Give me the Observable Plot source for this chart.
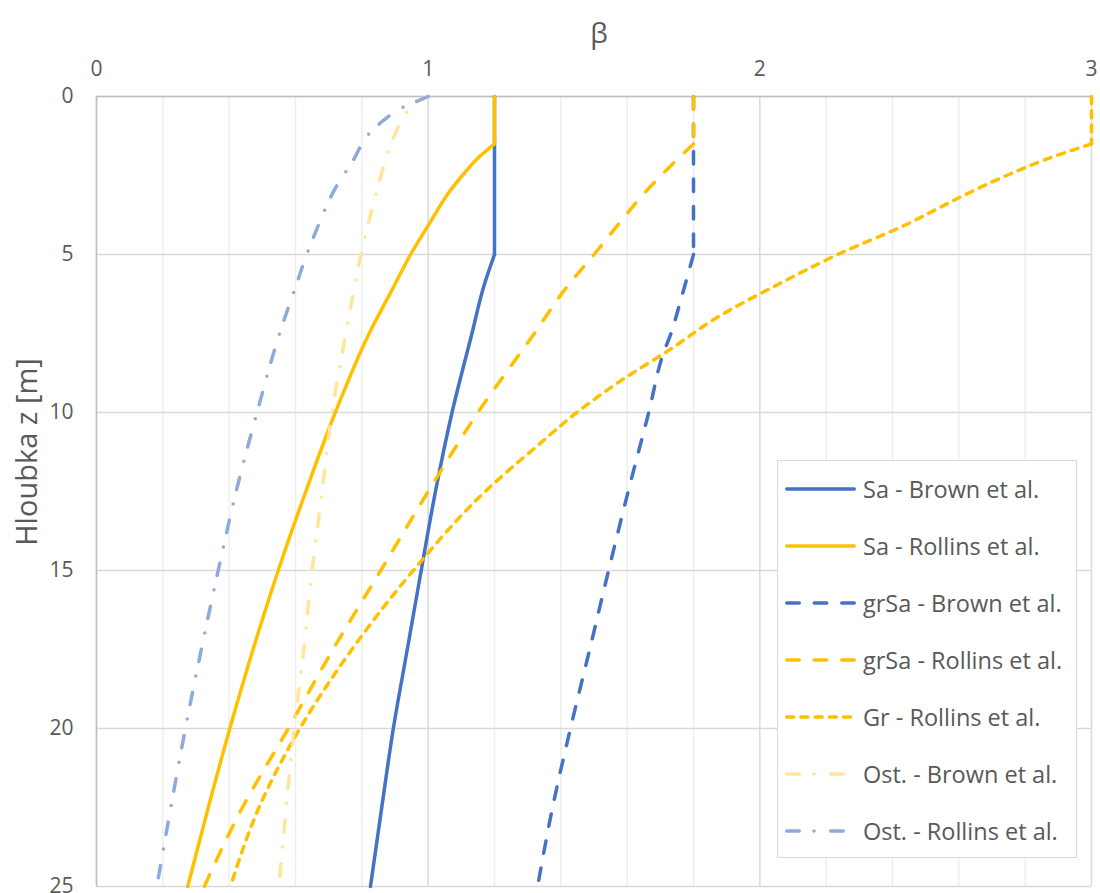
<!DOCTYPE html>
<html><head><meta charset="utf-8">
<script src="https://cdn.jsdelivr.net/npm/d3@7"></script>
<script src="https://cdn.jsdelivr.net/npm/@observablehq/plot@0.6"></script>
<style>
html,body{margin:0;padding:0;overflow:hidden;background:#fff;}
#wrap{position:relative;width:1100px;height:893px;font-family:"Open Sans",sans-serif;color:#595959;}
#wrap svg.plot{position:absolute;left:0;top:0;}
#title{position:absolute;left:599px;top:12px;transform:translateX(-50%);font-size:28px;line-height:40px;}
#ylabel{position:absolute;left:26px;top:452px;transform:translate(-50%,-50%) rotate(-90deg);white-space:nowrap;font-size:29px;line-height:36px;}
#legend{position:absolute;left:777px;top:460px;width:300px;height:398px;border:1.5px solid #d9d9d9;background:#fff;box-sizing:border-box;}
.row{position:absolute;left:0;height:40px;display:flex;align-items:center;}
.row svg{display:block;margin-left:7px;}
.row span{font-size:23.5px;margin-left:3px;white-space:nowrap;}
</style></head><body><div id="wrap"><div id="title">β</div><div id="ylabel">Hloubka z [m]</div></div>
<script>
// ---- data ----
const seriesNames = ["Sa - Brown et al.", "Sa - Rollins et al.", "grSa - Brown et al.", "grSa - Rollins et al.", "Gr - Rollins et al.", "Ost. - Brown et al.", "Ost. - Rollins et al."];

const zSaBrown    = [0, 5, 6, 7.5, 10, 12.5, 15, 17.5, 20, 22.5, 25];
const bSaBrown    = [1.2, 1.2, 1.168, 1.132, 1.072, 1.022, 0.979, 0.937, 0.895, 0.86, 0.826];

const zSaRollins  = [0, 1.5, 2, 2.5, 3, 4, 5, 6, 7.5, 10, 12.5, 15, 17.5, 20, 22.5, 25];
const bSaRollins  = [1.2, 1.2, 1.145, 1.103, 1.065, 1.005, 0.947, 0.897, 0.822, 0.72, 0.631, 0.548, 0.472, 0.402, 0.337, 0.275];

const zGrSaBrown  = [0, 5, 6.5, 7.5, 8.1, 10, 12.5, 15, 17.5, 20, 22.5, 25];
const bGrSaBrown  = [1.8, 1.8, 1.76, 1.732, 1.71, 1.665, 1.603, 1.544, 1.487, 1.429, 1.375, 1.33];

const zGrSaRollins = [0, 1.5, 2, 3, 4, 5, 6, 7.5, 10, 12.5, 15, 17.5, 20, 22.5, 25];
const bGrSaRollins = [1.8, 1.8, 1.75, 1.657, 1.577, 1.50, 1.42, 1.32, 1.15, 1.0, 0.857, 0.713, 0.578, 0.44, 0.325];

const zGrRollins  = [0, 1.5, 2, 2.5, 3, 3.5, 4, 5, 6, 7, 8, 9, 10, 11, 12.5, 15, 17.5, 20, 22.5, 25];
const bGrRollins  = [3.0, 3.0, 2.86, 2.744, 2.64, 2.545, 2.452, 2.235, 2.045, 1.87, 1.73, 1.58, 1.448, 1.335, 1.172, 0.955, 0.77, 0.613, 0.49, 0.404];

const zOstBrown   = [0, 0.25, 0.5, 1, 2, 3, 4, 5, 6, 7.5, 10, 12.5, 15, 17.5, 20, 22.5, 25];
const bOstBrown   = [1.0, 0.955, 0.935, 0.908, 0.872, 0.845, 0.82, 0.797, 0.778, 0.752, 0.71, 0.68, 0.65, 0.625, 0.596, 0.572, 0.55];

const zOstRollins = [0, 0.15, 0.35, 0.75, 1.2, 2, 3, 4, 5, 6, 7.5, 10, 12.5, 15, 17.5, 20, 22.5, 25];
const bOstRollins = [1.0, 0.966, 0.922, 0.866, 0.82, 0.775, 0.715, 0.672, 0.634, 0.601, 0.552, 0.484, 0.421, 0.367, 0.316, 0.268, 0.224, 0.182];

const xTicks = [0, 1, 2, 3];
const xMinorTicks = [0.2, 0.4, 0.6, 0.8, 1.2, 1.4, 1.6, 1.8, 2.2, 2.4, 2.6, 2.8];
const yTicks = [0, 5, 10, 15, 20, 25];

// ---- styles ----
const BLUE = "#4472C4", YELLOW = "#FFC000", LYELLOW = "#FFE699", LBLUE = "#8FAADC";
const styles = [
  {stroke: BLUE,    dash: null},
  {stroke: YELLOW,  dash: null},
  {stroke: BLUE,    dash: "12.5,15"},
  {stroke: YELLOW,  dash: "12.5,15"},
  {stroke: YELLOW,  dash: "7,7.2"},
  {stroke: LYELLOW, dash: "12.5,14.75,0,16.75"},
  {stroke: LBLUE,   dash: "12.5,14.75,0,16.75"}
];
const zs = [zSaBrown, zSaRollins, zGrSaBrown, zGrSaRollins, zGrRollins, zOstBrown, zOstRollins];
const bs = [bSaBrown, bSaRollins, bGrSaBrown, bGrSaRollins, bGrRollins, bOstBrown, bOstRollins];
const seriesData = seriesNames.map((name, i) => zs[i].map((z, j) => ({series: name, z, beta: bs[i][j]})));

// each series: the capped (constant) part is straight, the rest is a smooth curve
const lineMarks = [];
seriesData.forEach((d, i) => {
  let k = 0;
  while (k + 1 < d.length && d[k + 1].beta === d[0].beta) k++;
  const common = {
    x: "beta", y: "z", stroke: styles[i].stroke, strokeWidth: 3.5,
    strokeDasharray: styles[i].dash || undefined, strokeLinecap: "round", strokeLinejoin: "round"
  };
  if (k > 0) lineMarks.push(Plot.line(d.slice(0, k + 1), {...common, curve: "linear"}));
  lineMarks.push(Plot.line(d.slice(k), {...common, curve: "monotone-y"}));
});

const chart = Plot.plot({
  width: 1100, height: 920,
  marginLeft: 96, marginRight: 9, marginTop: 96, marginBottom: 34,
  style: {fontFamily: "'Open Sans', sans-serif", color: "#595959", background: "transparent", overflow: "visible"},
  x: {domain: [0, 3]},
  y: {domain: [0, 25], reverse: true},
  marks: [
    Plot.gridX(xMinorTicks, {stroke: "#eeeeee", strokeOpacity: 1, strokeWidth: 1.5}),
    Plot.gridX(xTicks, {stroke: "#d9d9d9", strokeOpacity: 1, strokeWidth: 1.5}),
    Plot.gridY(yTicks, {stroke: "#d9d9d9", strokeOpacity: 1, strokeWidth: 1.5}),
    Plot.ruleX([0], {stroke: "#bfbfbf", strokeWidth: 1.5}),
    Plot.ruleY([0], {stroke: "#bfbfbf", strokeWidth: 1.5}),
    Plot.axisX(xTicks, {anchor: "top", tickSize: 0, tickPadding: 21, fontSize: 21, label: null, tickFormat: d3.format("d")}),
    Plot.axisY(yTicks, {anchor: "left", tickSize: 0, tickPadding: 23, fontSize: 21, label: null, tickFormat: d3.format("d")}),
    ...lineMarks
  ]
});
document.getElementById("wrap").appendChild(chart);

// ---- legend ----
const legend = document.createElement("div");
legend.id = "legend";
seriesNames.forEach((name, i) => {
  const row = document.createElement("div");
  row.className = "row";
  row.style.top = (28 + 57 * i - 20) + "px";
  const s = styles[i];
  row.innerHTML = `<svg width="75" height="10"><path d="M1.75,5H69.25" stroke="${s.stroke}" stroke-width="3.5" stroke-linecap="round" ${s.dash ? `stroke-dasharray="${s.dash}"` : ""} fill="none"/></svg><span>${name}</span>`;
  legend.appendChild(row);
});
document.getElementById("wrap").appendChild(legend);
</script></body></html>
